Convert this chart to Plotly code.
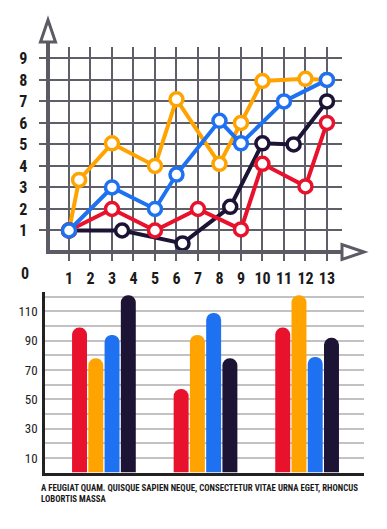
import plotly.graph_objects as go

W, H = 387, 529

# ---------------- line chart data ----------------
x_ticks = list(range(1, 14))
y_ticks = list(range(1, 10))

orange_x = [1, 1.47, 3, 5, 6, 8, 9, 10, 12, 13]
orange_y = [1, 3.35, 5.05, 4.0, 7.1, 4.1, 6.0, 7.95, 8.05, 8.0]
black_x = [1, 3.47, 6.28, 8.5, 10, 11.45, 13]
black_y = [1, 1.0, 0.4, 2.1, 5.05, 5.0, 7.0]
red_x = [1, 3, 5, 7, 9, 10, 12, 13]
red_y = [1, 2.0, 1.0, 2.0, 1.05, 4.1, 3.05, 6.0]
blue_x = [1, 3, 5, 6, 8, 9, 11, 13]
blue_y = [1, 3.0, 2.0, 3.6, 6.1, 5.05, 7.0, 8.0]

# ---------------- bar chart data ----------------
groups = ["A", "B", "C"]
bar_red = [99, 57, 99]
bar_orange = [78, 94, 121]
bar_blue = [94, 109, 79]
bar_black = [121, 78, 92]
bar_ticks = list(range(10, 130, 10))
bar_labels = [str(v) if (v // 10) % 2 == 1 else "" for v in bar_ticks]

caption = ("A FEUGIAT QUAM. QUISQUE SAPIEN NEQUE, CONSECTETUR VITAE URNA EGET, RHONCUS"
           "<br>LOBORTIS MASSA")

RED = "#e8122c"
ORANGE = "#ffa300"
BLUE = "#1e72f2"
DARK = "#1d1335"
GRID = "#5f5f69"
AXIS = "#5b5b66"
NARROW = "Roboto Condensed, Liberation Sans Narrow, Roboto, sans-serif"


def px(x):
    return x / W


def py(y):
    return 1 - y / H


fig = go.Figure()

for xs, ys, col in [(orange_x, orange_y, ORANGE), (black_x, black_y, DARK),
                    (red_x, red_y, RED), (blue_x, blue_y, BLUE)]:
    fig.add_trace(go.Scatter(
        x=xs, y=ys, mode="lines+markers", xaxis="x", yaxis="y",
        line=dict(color=col, width=4),
        marker=dict(size=13, color="white", line=dict(color=col, width=3.5)),
        cliponaxis=False, showlegend=False, hoverinfo="skip"))

for vals, col in [(bar_red, RED), (bar_orange, ORANGE), (bar_blue, BLUE), (bar_black, DARK)]:
    fig.add_trace(go.Bar(x=groups, y=vals, xaxis="x2", yaxis="y2",
                         marker=dict(color=col, line=dict(width=0)),
                         showlegend=False, hoverinfo="skip"))

shapes = []
# vertical axis with arrow
shapes.append(dict(type="line", xref="paper", yref="paper",
                   x0=px(48), x1=px(48), y0=py(254), y1=py(40),
                   line=dict(color=AXIS, width=4)))
shapes.append(dict(type="path", xref="paper", yref="paper",
                   path=f"M {px(48)},{py(20)} L {px(55.5)},{py(42)} L {px(40.5)},{py(42)} Z",
                   fillcolor="white", line=dict(color=AXIS, width=3)))
# horizontal axis with arrow
shapes.append(dict(type="line", xref="paper", yref="paper",
                   x0=px(46), x1=px(343), y0=py(252), y1=py(252),
                   line=dict(color=AXIS, width=4)))
shapes.append(dict(type="path", xref="paper", yref="paper",
                   path=f"M {px(364)},{py(252)} L {px(342)},{py(244.5)} L {px(342)},{py(259.5)} Z",
                   fillcolor="white", line=dict(color=AXIS, width=3)))

fig.update_layout(
    width=W, height=H,
    margin=dict(l=0, r=0, t=0, b=0),
    paper_bgcolor="white", plot_bgcolor="white",
    barmode="group", bargap=0.36, bargroupgap=0.08, barcornerradius="50%",
    shapes=shapes,
    xaxis=dict(domain=[px(47.5), px(342)], range=[0, 13.7], anchor="y",
               tickvals=x_ticks, showgrid=True, gridcolor=GRID, gridwidth=2,
               zeroline=False, showline=False, ticks="outside", ticklen=8,
               tickwidth=2, tickcolor=GRID, ticklabelstandoff=4, tickangle=0,
               tickfont=dict(family=NARROW, size=16, color="#1a1a1a", weight="bold"),
               fixedrange=True),
    yaxis=dict(domain=[py(252), py(47)], range=[0, 9.53], anchor="x",
               tickvals=y_ticks, showgrid=True, gridcolor=GRID, gridwidth=2,
               zeroline=False, showline=False, ticks="outside", ticklen=8,
               tickwidth=2, tickcolor=GRID, ticklabelstandoff=8,
               tickfont=dict(family=NARROW, size=16, color="#1a1a1a", weight="bold"),
               fixedrange=True),
    xaxis2=dict(domain=[px(45), px(364)], range=[-0.58, 2.56], anchor="y2",
                showticklabels=False, ticks="", showgrid=False, zeroline=False,
                showline=True, linecolor="#222222", linewidth=3, fixedrange=True),
    yaxis2=dict(domain=[py(472.6), py(292)], range=[0, 123.3], anchor="x2",
                tickvals=bar_ticks, ticktext=bar_labels, showgrid=True,
                gridcolor="#c2c2c2", gridwidth=2, zeroline=False,
                showline=True, linecolor="#222222", linewidth=2.5, ticks="",
                ticklabelstandoff=2,
                tickfont=dict(family="Roboto Condensed, Roboto, Arial, sans-serif",
                              size=13, color="#222222"),
                fixedrange=True),
    annotations=[
        dict(text="0", xref="paper", yref="paper", x=px(25), y=py(273),
             xanchor="center", yanchor="middle", showarrow=False,
             font=dict(family=NARROW, size=16, color="#1a1a1a", weight="bold")),
        dict(text=caption, xref="paper", yref="paper", x=px(39), y=py(493),
             xanchor="left", yanchor="middle", align="left", showarrow=False,
             font=dict(family=NARROW, size=8.8, color="#1a1a1a", weight="bold")),
    ],
)

fig.write_html("out.html", config={"displayModeBar": False},
               post_script="document.body.style.margin='0';document.body.style.padding='0';")
